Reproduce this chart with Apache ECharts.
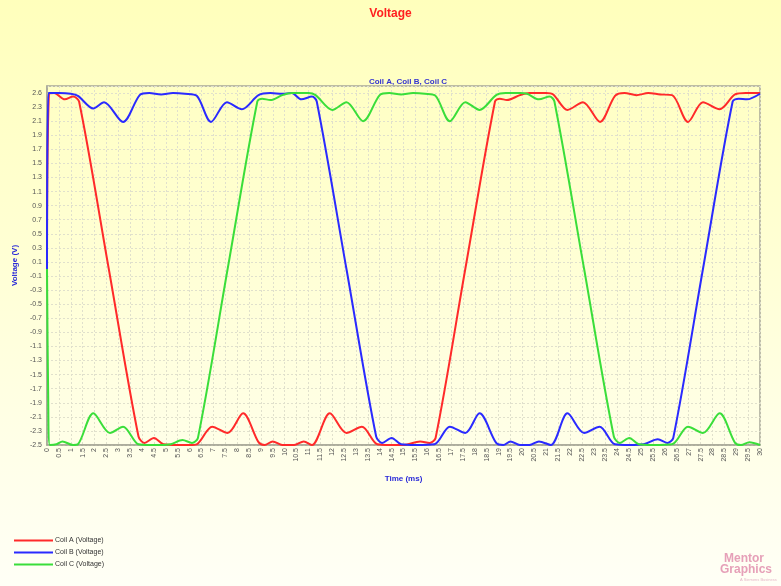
<!DOCTYPE html>
<html>
<head>
<meta charset="utf-8">
<script src="https://cdn.jsdelivr.net/npm/echarts@6/dist/echarts.min.js"></script>
<style>
html,body{margin:0;padding:0;}
#c{width:781px;height:586px;}
</style>
</head>
<body>
<div id="c"></div>
<script>
const seriesNames = ['Coil A (Voltage)', 'Coil B (Voltage)', 'Coil C (Voltage)'];
const seriesColors = ['#ff2a2a', '#2a2aff', '#3ade3a'];
const yTickLabels = ['-2.5','-2.3','-2.1','-1.9','-1.7','-1.5','-1.3','-1.1','-0.9','-0.7','-0.5','-0.3','-0.1','0.1','0.3','0.5','0.7','0.9','1.1','1.3','1.5','1.7','1.9','2.1','2.3','2.6'];

const coilA = [
  [0,0],[0.08,2.48],[0.3,2.5],[0.75,2.41],[1.1,2.45],[1.35,2.38],[2.6,0],[3.85,-2.38],[4.1,-2.47],[4.5,-2.4],[4.9,-2.49],[5.5,-2.5],[6.0,-2.5],
  [6.3,-2.49],[6.95,-2.24],[7.6,-2.33],[8.25,-2.05],[8.9,-2.46],[9.15,-2.5],[9.5,-2.45],[9.9,-2.5],[10.4,-2.5],[10.8,-2.45],[11.15,-2.5],
  [11.9,-2.05],[12.6,-2.33],[13.25,-2.24],[13.9,-2.49],[14.4,-2.5],[15.0,-2.5],[15.7,-2.45],[16.1,-2.47],[16.35,-2.4],[17.6,0],[18.85,2.38],[19.05,2.42],[19.35,2.4],[19.9,2.47],[20.3,2.5],
  [21.0,2.5],[21.3,2.48],[21.9,2.26],[22.55,2.37],[23.27,2.09],[23.9,2.46],[24.3,2.5],[24.8,2.47],[25.3,2.5],[25.8,2.48],[26.3,2.47],
  [26.97,2.09],[27.6,2.37],[28.3,2.27],[28.95,2.48],[29.4,2.5],[30,2.5]
];
const coilB = [
  [0,0],[0.06,2.5],[0.5,2.5],[1.0,2.49],[1.3,2.46],[1.95,2.28],[2.4,2.37],[3.2,2.09],[3.9,2.47],[4.3,2.5],[4.8,2.48],[5.3,2.5],[5.8,2.49],[6.3,2.46],
  [6.9,2.09],[7.57,2.37],[8.2,2.27],[8.9,2.47],[9.4,2.5],[9.9,2.49],[10.3,2.5],[10.7,2.41],[11.15,2.45],[11.35,2.38],[12.6,0],[13.85,-2.38],[14.1,-2.47],[14.5,-2.4],[14.9,-2.49],[15.5,-2.5],[16.3,-2.49],
  [16.95,-2.24],[17.6,-2.33],[18.2,-2.05],[18.9,-2.47],[19.2,-2.5],[19.5,-2.45],[19.9,-2.5],[20.3,-2.5],[20.7,-2.45],[21.2,-2.5],
  [21.9,-2.05],[22.6,-2.33],[23.25,-2.24],[23.9,-2.49],[24.5,-2.5],[25.1,-2.49],[25.7,-2.42],[26.1,-2.47],[26.35,-2.4],[27.6,0],[28.85,2.38],[29.1,2.42],[29.45,2.41],[30,2.49]
];
const coilC = [
  [0,0],[0.05,-1.8],[0.12,-2.5],[0.4,-2.49],[0.65,-2.45],[1.1,-2.5],[1.3,-2.49],[1.95,-2.05],[2.65,-2.33],[3.2,-2.24],[3.85,-2.49],[4.3,-2.5],[4.8,-2.5],[5.2,-2.49],[5.7,-2.43],[6.1,-2.47],[6.35,-2.4],
  [7.6,0],[8.85,2.38],[9.05,2.42],[9.4,2.4],[9.9,2.47],[10.3,2.5],[11.0,2.5],[11.3,2.47],[12.0,2.26],[12.6,2.37],[13.3,2.1],[14.0,2.47],[14.4,2.5],[14.9,2.48],[15.4,2.5],[15.9,2.49],[16.35,2.46],
  [16.95,2.1],[17.6,2.37],[18.2,2.26],[18.9,2.47],[19.3,2.5],[19.9,2.5],[20.2,2.49],[20.7,2.41],[21.15,2.45],[21.35,2.38],[22.6,0],[23.85,-2.38],[24.1,-2.47],[24.5,-2.4],[24.9,-2.49],[25.5,-2.5],[26.3,-2.49],
  [26.97,-2.24],[27.6,-2.33],[28.3,-2.05],[28.95,-2.47],[29.2,-2.5],[29.55,-2.46],[30,-2.5]
];
const seriesData = [coilA, coilB, coilC];

const chart = echarts.init(document.getElementById('c'), null, {renderer: 'canvas'});
const FONT = '"Liberation Sans", Arial, sans-serif';
const option = {
  backgroundColor: new echarts.graphic.LinearGradient(0, 0, 0, 1, [
    {offset: 0, color: '#ffffbc'},
    {offset: 0.5, color: '#ffffd8'},
    {offset: 1, color: '#fffff6'}
  ]),
  animation: false,
  title: [
    {text: 'Voltage', left: 'center', top: 3, textStyle: {color: '#ff2020', fontSize: 12, fontWeight: 'bold', fontFamily: FONT}},
    {text: 'Coil A, Coil B, Coil C', left: 403, top: 73, textAlign: 'center', textStyle: {color: '#3434d0', fontSize: 8, fontWeight: 'bold', fontFamily: FONT}}
  ],
  legend: {
    orient: 'vertical', left: 14, top: 536, height: 50, padding: 0, itemWidth: 39, itemHeight: 2, itemGap: 3, icon: 'rect',
    data: seriesNames,
    textStyle: {fontSize: 7, color: '#333', fontFamily: FONT, padding: [0,0,0,-3], lineHeight: 9}
  },
  grid: {left: 47, right: 21, top: 86, bottom: 141, show: true, borderColor: '#a8a898', borderWidth: 1.5, backgroundColor: 'transparent'},
  xAxis: {
    type: 'value', min: 0, max: 30, interval: 0.5,
    name: 'Time (ms)', nameLocation: 'middle', nameGap: 30,
    nameTextStyle: {color: '#2a2ad8', fontSize: 8, fontWeight: 'bold', fontFamily: FONT},
    axisLine: {show: true, onZero: false, lineStyle: {color: '#a8a898', width: 1.5}},
    axisTick: {show: false},
    axisLabel: {rotate: 90, fontSize: 7, color: '#555', margin: 3, fontFamily: FONT, showMaxLabel: true, showMinLabel: true},
    splitLine: {show: true, lineStyle: {color: '#e0e0cc', type: [2, 2], width: 1}}
  },
  yAxis: {
    type: 'value', min: -2.5, max: 2.6, interval: 0.2,
    name: 'Voltage (V)', nameLocation: 'middle', nameGap: 27,
    nameTextStyle: {color: '#2a2ad8', fontSize: 8, fontWeight: 'bold', fontFamily: FONT},
    axisLine: {show: true, onZero: false, lineStyle: {color: '#a8a898', width: 1.5}},
    axisTick: {show: false},
    axisLabel: {
      fontSize: 7, color: '#555', margin: 5, fontFamily: FONT,
      formatter: function (v) {
        if (v > 2.55) return '';
        const i = Math.round((v + 2.5) / 0.2);
        return yTickLabels[i] !== undefined ? yTickLabels[i] : '';
      }
    },
    splitLine: {show: true, lineStyle: {color: '#e0e0cc', type: [2, 2], width: 1}}
  },
  series: seriesNames.map(function (n, i) {
    return {
      name: n, type: 'line', data: seriesData[i], smooth: 0.3,
      showSymbol: false, symbol: 'none',
      lineStyle: {color: seriesColors[i], width: 2},
      itemStyle: {color: seriesColors[i]},
      z: 2 + i
    };
  }),
  graphic: [
    {type: 'text', left: 724, top: 553, style: {text: 'Mentor', fill: '#e6a0b8', font: 'bold 12px ' + FONT}},
    {type: 'text', left: 720, top: 564, style: {text: 'Graphics', fill: '#e6a0b8', font: 'bold 12px ' + FONT}},
    {type: 'text', left: 740, top: 578, style: {text: 'A Siemens Business', fill: '#e6b8c8', font: '4px ' + FONT}}
  ]
};
chart.setOption(option);
</script>
</body>
</html>
